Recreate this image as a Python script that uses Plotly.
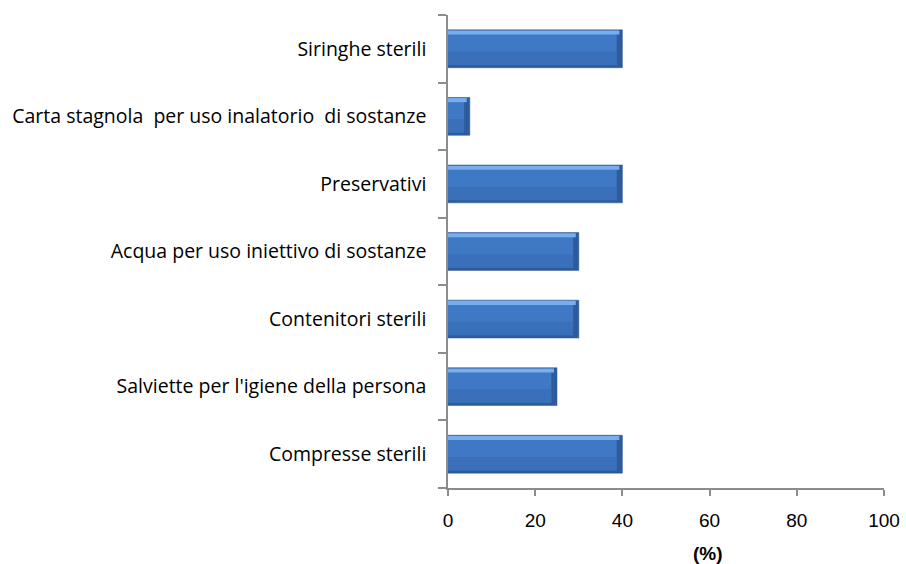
import plotly.graph_objects as go

# Categories listed bottom-to-top, values in percent
categories = [
    "Compresse sterili",
    "Salviette per l'igiene della persona",
    "Contenitori sterili",
    "Acqua per uso iniettivo di sostanze",
    "Preservativi",
    "Carta stagnola  per uso inalatorio  di sostanze",
    "Siringhe sterili",
]
values = [40, 25, 30, 30, 40, 5, 40]
x_ticks = [0, 20, 40, 60, 80, 100]

fig = go.Figure()

# dark outer shell of each bar (gives the bevelled right end and bottom edge)
fig.add_trace(go.Bar(
    y=categories, x=values, orientation="h",
    width=0.56, offset=-0.28,
    marker=dict(color="#2D5B9C", line=dict(color="#2A5690", width=0.5)),
    hoverinfo="skip", showlegend=False,
))
# bar body
fig.add_trace(go.Bar(
    y=categories, x=[v - 1.3 for v in values], orientation="h",
    width=0.50, offset=-0.24,
    marker=dict(color="#3F78C4", line=dict(width=0)),
    hoverinfo="skip", showlegend=False,
))
# slightly darker lower half of the body
fig.add_trace(go.Bar(
    y=categories, x=[v - 1.3 for v in values], orientation="h",
    width=0.20, offset=-0.24,
    marker=dict(color="#386CB3", line=dict(width=0)),
    opacity=0.6, hoverinfo="skip", showlegend=False,
))
# light top edge
fig.add_trace(go.Bar(
    y=categories, x=[v - 0.7 for v in values], orientation="h",
    width=0.06, offset=0.21,
    marker=dict(color="#78AEEE", line=dict(width=0)),
    hoverinfo="skip", showlegend=False,
))

fig.update_layout(
    width=906, height=564,
    margin=dict(l=448, r=22, t=15, b=76, autoexpand=False),
    paper_bgcolor="white", plot_bgcolor="white",
    barmode="overlay",
    font=dict(family="Liberation Sans, Arial, sans-serif", color="#000000"),
    xaxis=dict(
        range=[0, 100], tickvals=x_ticks, ticktext=[str(t) for t in x_ticks],
        showgrid=False, zeroline=False, showline=True, linecolor="#8C8C8C",
        linewidth=1.5, ticks="outside", ticklen=6, tickcolor="#8C8C8C",
        tickwidth=1.5, tickfont=dict(size=19), ticklabelstandoff=8,
        automargin=False,
    ),
    yaxis=dict(
        type="category", showgrid=False, showline=True, linecolor="#8C8C8C",
        linewidth=1.5, ticks="outside", ticklen=8, tickcolor="#8C8C8C",
        tickwidth=1.5, tickson="boundaries",
        tickfont=dict(family="Open Sans, sans-serif", size=19.5),
        ticklabelstandoff=16, automargin=False,
    ),
    annotations=[dict(
        text="<b>(%)</b>", x=0.597, y=-0.138, xref="paper", yref="paper",
        xanchor="center", yanchor="middle",
        showarrow=False, font=dict(size=19, family="Liberation Sans, Arial, sans-serif"),
    )],
)

fig.write_html("out.html")
